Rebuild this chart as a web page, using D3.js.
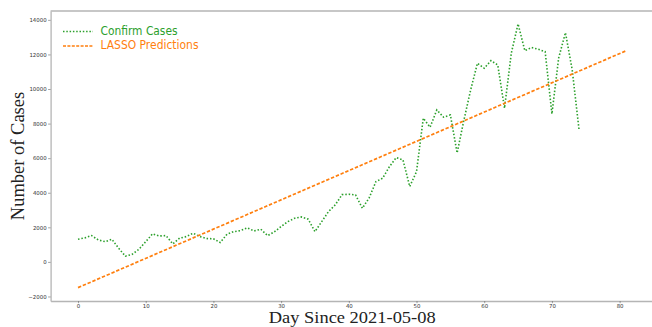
<!DOCTYPE html>
<html>
<head>
<meta charset="utf-8">
<script src="https://cdn.jsdelivr.net/npm/d3@7"></script>
<style>
	body { margin: 0; background: #fff; }
	svg { display: block; }
	.tick text { font-family: "DejaVu Sans", sans-serif; font-size: 5.4px; fill: #333; }
	.tick line { stroke: #666; stroke-width: 0.6; }
	.domain { stroke: #b5b5b5; stroke-width: 1.3; }
</style>
</head>
<body>
<div id="chart"></div>
<script>
// daily confirmed cases, day 0 = 2021-05-08
const confirmCases = [
	1310, 1390, 1520, 1270, 1170, 1310, 790, 330, 440, 730,
	1170, 1620, 1500, 1520, 1040, 1370, 1465, 1660, 1465, 1350,
	1340, 1120, 1600, 1750, 1810, 1970, 1790, 1890, 1520, 1735,
	2045, 2330, 2525, 2600, 2470, 1750, 2330, 2910, 3300, 3890,
	3915, 3875, 3100, 3700, 4640, 4840, 5510, 6030, 5900, 4360,
	5220, 8310, 7790, 8790, 8370, 8500, 6300, 8200, 9950, 11490,
	11200, 11640, 11390, 8890, 12070, 13765, 12220, 12400, 12300, 12160,
	8560, 11800, 13260, 11100, 7670
];
// LASSO fit is a straight line, so its two ends are enough
const predDays = [0, 81];
const predValues = [-1490, 12220];

const xTicks = [0, 10, 20, 30, 40, 50, 60, 70, 80];
const yTicks = [-2000, 0, 2000, 4000, 6000, 8000, 10000, 12000, 14000];

const width = 652, height = 327;
const m = {left: 50.6, right: 653.8, top: 11, bottom: 301};

const svg = d3.select("#chart").append("svg")
	.attr("width", width)
	.attr("height", height);

const x = d3.scaleLinear().domain([-4.05, 85.05]).range([m.left, m.right]);
const y = d3.scaleLinear().domain([-2262, 14512]).range([m.bottom, m.top]);

// matplotlib style: no thousands comma, real minus sign
const fmt = d => String(d).replace("-", "\u2212");

// top spine
svg.append("line")
	.attr("x1", m.left).attr("x2", m.right)
	.attr("y1", m.top).attr("y2", m.top)
	.attr("stroke", "#b5b5b5").attr("stroke-width", 1.3);

svg.append("g")
	.attr("transform", `translate(0,${m.bottom})`)
	.call(d3.axisBottom(x).tickValues(xTicks).tickFormat(fmt)
		.tickSize(2.2).tickSizeOuter(0).tickPadding(1));

svg.append("g")
	.attr("transform", `translate(${m.left},0)`)
	.call(d3.axisLeft(y).tickValues(yTicks).tickFormat(fmt)
		.tickSize(2.5).tickSizeOuter(0).tickPadding(1.5));

const line = d3.line()
	.x(d => x(d[0]))
	.y(d => y(d[1]));

svg.append("path")
	.datum(confirmCases.map((v, i) => [i, v]))
	.attr("fill", "none")
	.attr("stroke", "#2ca02c")
	.attr("stroke-width", 1.6)
	.attr("stroke-dasharray", "1.5,1.9")
	.attr("d", line);

svg.append("path")
	.datum(predDays.map((d, i) => [d, predValues[i]]))
	.attr("fill", "none")
	.attr("stroke", "#ff7f0e")
	.attr("stroke-width", 1.7)
	.attr("stroke-dasharray", "3.4,1.8")
	.attr("d", line);

// legend
const legend = [
	{label: "Confirm Cases", color: "#2ca02c", dash: "1.5,1.8", len: 77},
	{label: "LASSO Predictions", color: "#ff7f0e", dash: "3,1.4", len: 98}
];
const lg = svg.append("g");
legend.forEach((d, i) => {
	const cy = 30.5 + i * 14.5;
	lg.append("line")
		.attr("x1", 63).attr("x2", 93)
		.attr("y1", cy + 1).attr("y2", cy + 1)
		.attr("stroke", d.color)
		.attr("stroke-width", 1.6)
		.attr("stroke-dasharray", d.dash);
	lg.append("text")
		.attr("x", 100.5)
		.attr("y", cy + 4.3)
		.attr("font-family", "DejaVu Sans, sans-serif")
		.attr("font-size", 12)
		.attr("textLength", d.len)
		.attr("lengthAdjust", "spacingAndGlyphs")
		.attr("fill", d.color)
		.text(d.label);
});

svg.append("text")
	.attr("x", (m.left + m.right) / 2)
	.attr("y", 322.5)
	.attr("text-anchor", "middle")
	.attr("font-family", "Liberation Serif, serif")
	.attr("font-size", 17.5)
	.attr("textLength", 167)
	.attr("lengthAdjust", "spacingAndGlyphs")
	.attr("fill", "#222")
	.text("Day Since 2021-05-08");

svg.append("text")
	.attr("transform", `translate(24,${(m.top + m.bottom) / 2}) rotate(-90)`)
	.attr("text-anchor", "middle")
	.attr("font-family", "Liberation Serif, serif")
	.attr("font-size", 18.5)
	.attr("fill", "#222")
	.text("Number of Cases");
</script>
</body>
</html>
